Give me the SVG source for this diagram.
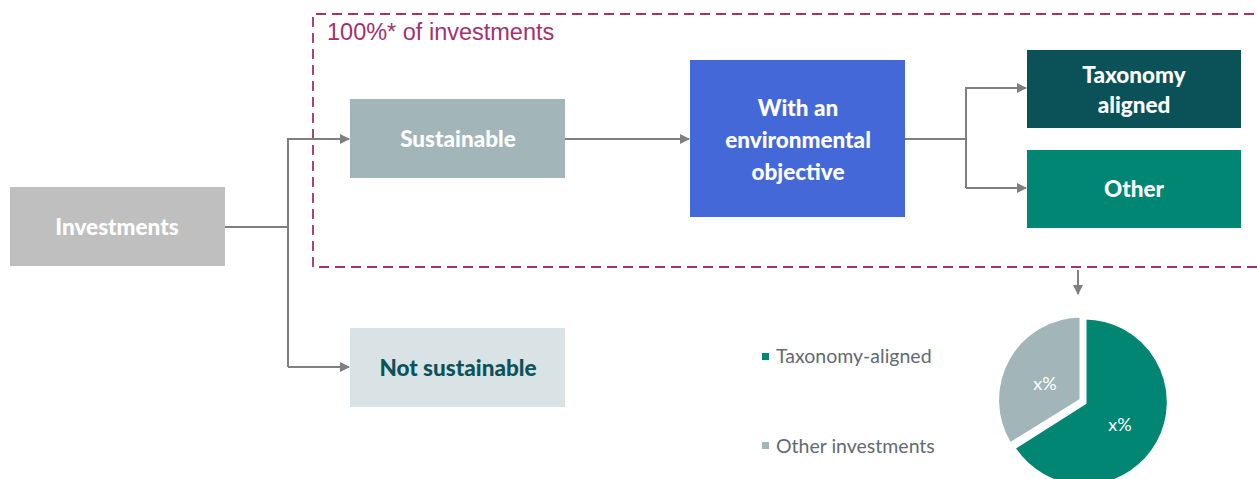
<svg xmlns="http://www.w3.org/2000/svg" width="1257" height="479" viewBox="0 0 1257 479">
<defs>
<marker id="arr" markerWidth="10" markerHeight="10" refX="9" refY="5" orient="auto" markerUnits="userSpaceOnUse">
<path d="M0,0 L10,5 L0,10 Z" fill="#7f7f7f"/>
</marker>
<style>
.box-t{font-family:Lato,"Noto Sans",sans-serif;font-weight:900;font-size:22.5px;text-anchor:middle;fill:#ffffff}
.conn{fill:none;stroke:#7f7f7f;stroke-width:2}
.leg{font-family:Lato,"Noto Sans",sans-serif;font-size:19.5px;fill:#5f6b73}
.pct{font-family:Lato,"Noto Sans",sans-serif;font-size:18px;fill:#ffffff;text-anchor:middle}
</style>
</defs>
<rect width="1257" height="479" fill="#ffffff"/>
<g id="scope">
<path d="M1257,267 L313,267 L313,14 L1257,14" fill="none" stroke="#a3306f" stroke-width="1.8" stroke-dasharray="10,6"/>
<text x="327" y="40" font-family="'Liberation Sans',sans-serif" font-size="23.5" fill="#a3306f">100%* of investments</text>
</g>
<g id="connectors">
<path class="conn" d="M225,227 L288,227"/>
<path class="conn" d="M288,367 L288,139 L349,139" marker-end="url(#arr)"/>
<path class="conn" d="M288,367 L349,367" marker-end="url(#arr)"/>
<path class="conn" d="M565,139 L689,139" marker-end="url(#arr)"/>
<path class="conn" d="M905,139 L966,139"/>
<path class="conn" d="M966,188 L966,88 L1026,88" marker-end="url(#arr)"/>
<path class="conn" d="M966,188 L1026,188" marker-end="url(#arr)"/>
<path class="conn" d="M1078,270 L1078,294" marker-end="url(#arr)"/>
</g>
<g id="investments">
<rect x="10" y="187" width="215" height="79" fill="#bfbfbf"/>
<text class="box-t" x="117" y="235">Investments</text>
</g>
<g id="sustainable">
<rect x="350" y="99" width="215" height="79" fill="#a2b5b9"/>
<text class="box-t" x="458" y="147">Sustainable</text>
</g>
<g id="not-sustainable">
<rect x="350" y="328" width="215" height="79" fill="#d9e2e4"/>
<text class="box-t" x="458" y="376" style="fill:#0b5359">Not sustainable</text>
</g>
<g id="environmental">
<rect x="690" y="60" width="215" height="157" fill="#4468d8"/>
<text class="box-t" x="798" y="116">With an</text>
<text class="box-t" x="798" y="148">environmental</text>
<text class="box-t" x="798" y="180">objective</text>
</g>
<g id="taxonomy-aligned">
<rect x="1027" y="50" width="214" height="78" fill="#0b5158"/>
<text class="box-t" x="1134" y="83">Taxonomy</text>
<text class="box-t" x="1134" y="113">aligned</text>
</g>
<g id="other">
<rect x="1027" y="150" width="214" height="78" fill="#008673"/>
<text class="box-t" x="1134" y="197">Other</text>
</g>
<g id="legend">
<rect x="762" y="353" width="7" height="7" fill="#00866f"/>
<text class="leg" x="776" y="363">Taxonomy-aligned</text>
<rect x="762" y="442" width="7" height="7" fill="#a2b5b9"/>
<text class="leg" x="776" y="453">Other investments</text>
</g>
<g id="pie">
<path d="M1085,403 L1085,318 A84,84 0 1 1 1014,448 Z" fill="#008673" stroke="#ffffff" stroke-width="3"/>
<path d="M1081,400 L1010,444 A84,84 0 0 1 1081,316 Z" fill="#a2b5b9" stroke="#ffffff" stroke-width="3"/>
<text class="pct" x="1045" y="390">x%</text>
<text class="pct" x="1120" y="431">x%</text>
</g>
</svg>
